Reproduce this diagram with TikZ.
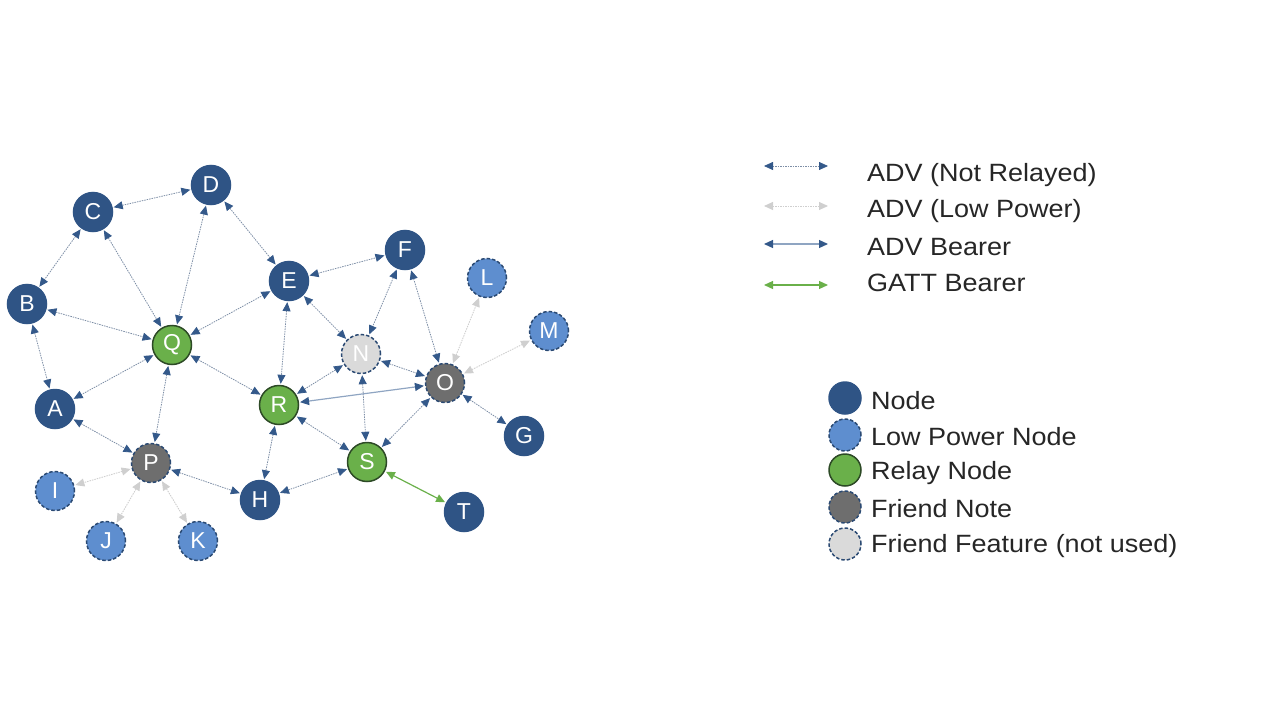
\documentclass[tikz,border=0pt]{standalone}
\usepackage{fontspec}
\setmainfont{Liberation Sans}
\newfontfamily\legfont[FakeStretch=1.08]{Liberation Sans}
\usetikzlibrary{arrows.meta}
\definecolor{nodeblue}{HTML}{2F5485}
\definecolor{lpblue}{HTML}{5E8ECF}
\definecolor{relaygreen}{HTML}{6AB04A}
\definecolor{greenborder}{HTML}{2D4A26}
\definecolor{friendgray}{HTML}{6E6E6E}
\definecolor{featgray}{HTML}{DADADA}
\definecolor{borderdark}{HTML}{2B4A73}
\definecolor{arrowblue}{HTML}{34598A}
\definecolor{edgeline}{HTML}{7D8EA6}
\definecolor{bearerline}{HTML}{8FA5C2}
\definecolor{lowgray}{HTML}{CFCFCF}
\definecolor{gattgreen}{HTML}{6AB04A}
\begin{document}
\begin{tikzpicture}[x=1pt,y=-1pt,
  base/.style={circle, minimum size=39pt, inner sep=0pt, font=\fontsize{23}{23}\selectfont, text=white, line width=1.5pt},
  nd/.style={base, fill=nodeblue, draw=nodeblue},
  lp/.style={base, fill=lpblue, draw=borderdark, dash pattern=on 3.5pt off 2pt},
  relay/.style={base, fill=relaygreen, draw=greenborder},
  friend/.style={base, fill=friendgray, draw=borderdark, dash pattern=on 3.5pt off 2pt},
  feat/.style={base, fill=featgray, draw=borderdark, dash pattern=on 3.5pt off 2pt},
  lgnd/.style={circle, minimum size=32pt, inner sep=0pt, line width=1.5pt},
  adv/.style={{Triangle[length=9pt,width=8pt,fill=arrowblue,color=arrowblue]}-{Triangle[length=9pt,width=8pt,fill=arrowblue,color=arrowblue]}, draw=edgeline, line width=0.8pt, dash pattern=on 1.5pt off 1pt, shorten >=1pt, shorten <=1pt},
  low/.style={{Triangle[length=9pt,width=8pt,fill=lowgray,color=lowgray]}-{Triangle[length=9pt,width=8pt,fill=lowgray,color=lowgray]}, draw=lowgray, line width=0.9pt, dash pattern=on 1.5pt off 1pt, shorten >=1pt, shorten <=1pt},
  bearer/.style={{Triangle[length=9pt,width=8pt,fill=arrowblue,color=arrowblue]}-{Triangle[length=9pt,width=8pt,fill=arrowblue,color=arrowblue]}, draw=bearerline, line width=1.2pt, shorten >=1pt, shorten <=1pt},
  gatt/.style={{Triangle[length=9pt,width=8pt]}-{Triangle[length=9pt,width=8pt]}, draw=gattgreen, line width=1.2pt, shorten >=1pt, shorten <=1pt},
  ltext/.style={anchor=west, font=\legfont\fontsize{25}{25}\selectfont, text=black!85, inner sep=0pt}
]
\useasboundingbox (0,0) rectangle (1280,720);
% nodes
\node[nd] (C) at (93,212) {C};
\node[nd] (D) at (211,185) {D};
\node[nd] (B) at (27,304) {B};
\node[relay] (Q) at (172,345) {Q};
\node[nd] (E) at (289,281) {E};
\node[nd] (F) at (405,250) {F};
\node[lp] (L) at (487,278) {L};
\node[lp] (M) at (549,331) {M};
\node[feat] (N) at (361,354) {N};
\node[friend] (O) at (445,383) {O};
\node[relay] (R) at (279,405) {R};
\node[nd] (A) at (55,409) {A};
\node[friend] (P) at (151,463) {P};
\node[lp] (I) at (55,491) {I};
\node[lp] (J) at (106,541) {J};
\node[lp] (K) at (198,541) {K};
\node[nd] (H) at (260,500) {H};
\node[relay] (S) at (367,462) {S};
\node[nd] (T) at (464,512) {T};
\node[nd] (G) at (524,436) {G};
% edges
\draw[adv] (C) -- (D);
\draw[adv] (C) -- (B);
\draw[adv] (C) -- (Q);
\draw[adv] (D) -- (Q);
\draw[adv] (D) -- (E);
\draw[adv] (B) -- (Q);
\draw[adv] (B) -- (A);
\draw[adv] (Q) -- (E);
\draw[adv] (Q) -- (A);
\draw[adv] (Q) -- (P);
\draw[adv] (Q) -- (R);
\draw[adv] (E) -- (F);
\draw[adv] (E) -- (R);
\draw[adv] (E) -- (N);
\draw[adv] (F) -- (N);
\draw[adv] (F) -- (O);
\draw[adv] (N) -- (R);
\draw[adv] (N) -- (O);
\draw[adv] (N) -- (S);
\draw[bearer] (O) -- (R);
\draw[adv] (O) -- (S);
\draw[adv] (O) -- (G);
\draw[low] (O) -- (L);
\draw[low] (O) -- (M);
\draw[adv] (R) -- (S);
\draw[adv] (R) -- (H);
\draw[adv] (A) -- (P);
\draw[adv] (P) -- (H);
\draw[low] (P) -- (I);
\draw[low] (P) -- (J);
\draw[low] (P) -- (K);
\draw[adv] (H) -- (S);
\draw[gatt] (S) -- (T);
% legend arrows
\coordinate (l1a) at (763,166); \coordinate (l1b) at (829,166);
\coordinate (l2a) at (763,206); \coordinate (l2b) at (829,206);
\coordinate (l3a) at (763,244); \coordinate (l3b) at (829,244);
\coordinate (l4a) at (763,285); \coordinate (l4b) at (829,285);
\draw[adv] (l1a) -- (l1b);
\draw[low] (l2a) -- (l2b);
\draw[bearer] (l3a) -- (l3b);
\draw[gatt] (l4a) -- (l4b);
\node[ltext] (t1) at (867,175) {ADV (Not Relayed)};
\node[ltext] (t2) at (867,211) {ADV (Low Power)};
\node[ltext] (t3) at (867,247) {ADV Bearer};
\node[ltext] (t4) at (867,283) {GATT Bearer};
% legend nodes
\node[lgnd, fill=nodeblue, draw=nodeblue] (k1) at (845,398) {};
\node[lgnd, fill=lpblue, draw=borderdark, dash pattern=on 3.5pt off 2pt] (k2) at (845,435) {};
\node[lgnd, fill=relaygreen, draw=greenborder] (k3) at (845,470) {};
\node[lgnd, fill=friendgray, draw=borderdark, dash pattern=on 3.5pt off 2pt] (k4) at (845,507) {};
\node[lgnd, fill=featgray, draw=borderdark, dash pattern=on 3.5pt off 2pt] (k5) at (845,544) {};
\node[ltext] (n1) at (871,401) {Node};
\node[ltext] (n2) at (871,437) {Low Power Node};
\node[ltext] (n3) at (871,473) {Relay Node};
\node[ltext] (n4) at (871,509) {Friend Note};
\node[ltext] (n5) at (871,546) {Friend Feature (not used)};
\end{tikzpicture}
\end{document}
